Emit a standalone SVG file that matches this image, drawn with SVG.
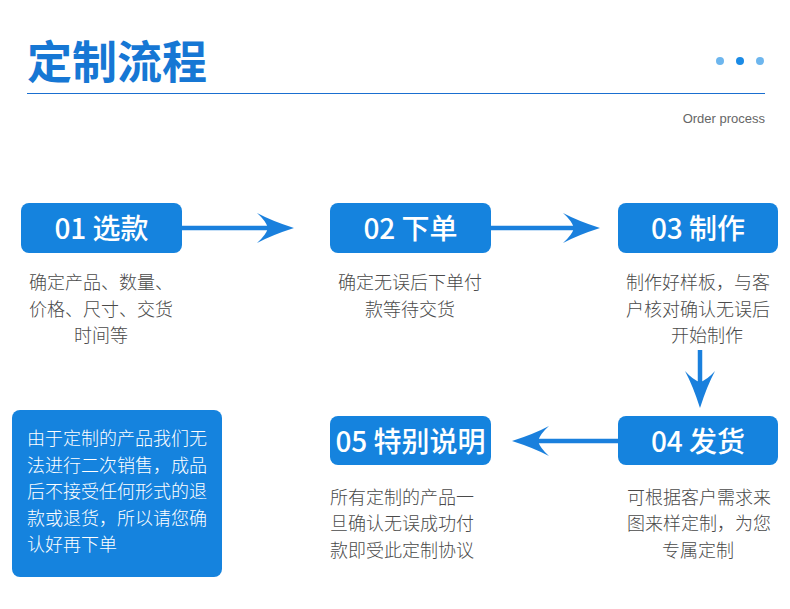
<svg xmlns="http://www.w3.org/2000/svg" width="790" height="609" viewBox="0 0 790 609">
<defs>
<style>
.box{fill:#1583de;}
.lbl{fill:#fff;font-family:"Noto Sans CJK SC","Noto Sans",sans-serif;font-size:28px;font-weight:500;text-anchor:middle;}
.desc{fill:#4a4a4a;font-family:"Noto Sans CJK SC",sans-serif;font-size:18px;font-weight:300;}
.mid{text-anchor:middle;}
.note{fill:#fff;font-family:"Noto Sans CJK SC",sans-serif;font-size:18px;font-weight:300;}
.conn{stroke:#1a80dd;stroke-width:4.5;fill:none;}
</style>
<marker id="ah" markerUnits="userSpaceOnUse" viewBox="-40 -20 44 40" markerWidth="44" markerHeight="40" refX="-26" refY="0" orient="auto">
<path d="M0,0 Q-22,-7 -37,-15 Q-28,-7 -26,0 Q-28,7 -37,15 Q-22,7 0,0 Z" fill="#1a80dd"/>
</marker>
</defs>
<rect width="790" height="609" fill="#fff"/>
<g id="header">
<text x="27" y="79" font-family="'Noto Sans CJK SC',sans-serif" font-size="45" font-weight="bold" fill="#1677d4">定制流程</text>
<line x1="27" y1="93.5" x2="765" y2="93.5" stroke="#1a6fd0" stroke-width="1.2"/>
<circle cx="720" cy="61" r="4" fill="#6db6ee"/>
<circle cx="740" cy="61" r="4" fill="#1a8be6"/>
<circle cx="760" cy="61" r="4" fill="#6db6ee"/>
<text x="765" y="123" text-anchor="end" font-family="'Liberation Sans',Roboto,sans-serif" font-size="13" fill="#666">Order process</text>
</g>
<g id="connectors">
<line class="conn" x1="182" y1="228" x2="268" y2="228" marker-end="url(#ah)"/>
<line class="conn" x1="491" y1="228" x2="574" y2="228" marker-end="url(#ah)"/>
<line class="conn" x1="700" y1="350" x2="700" y2="382" marker-end="url(#ah)"/>
<line class="conn" x1="618" y1="441" x2="538" y2="441" marker-end="url(#ah)"/>
</g>
<g id="n01">
<rect class="box" x="21" y="203" width="161" height="50" rx="8"/>
<text class="lbl" x="101.5" y="238.5">01 选款</text>
<text class="desc mid" x="101" y="289">确定产品、数量、</text>
<text class="desc mid" x="101" y="315.5">价格、尺寸、交货</text>
<text class="desc mid" x="101" y="342">时间等</text>
</g>
<g id="n02">
<rect class="box" x="330" y="203" width="161" height="50" rx="8"/>
<text class="lbl" x="410.5" y="238.5">02 下单</text>
<text class="desc mid" x="410" y="289">确定无误后下单付</text>
<text class="desc mid" x="410" y="315.5">款等待交货</text>
</g>
<g id="n03">
<rect class="box" x="618" y="203" width="160" height="50" rx="8"/>
<text class="lbl" x="698" y="238.5">03 制作</text>
<text class="desc mid" x="698" y="289">制作好样板，与客</text>
<text class="desc mid" x="698" y="315.5">户核对确认无误后</text>
<text class="desc mid" x="707" y="342">开始制作</text>
</g>
<g id="n04">
<rect class="box" x="618" y="416" width="160" height="49" rx="8"/>
<text class="lbl" x="698" y="451.5">04 发货</text>
<text class="desc mid" x="699" y="503.5">可根据客户需求来</text>
<text class="desc mid" x="699" y="530">图来样定制，为您</text>
<text class="desc mid" x="698" y="556.5">专属定制</text>
</g>
<g id="n05">
<rect class="box" x="330" y="416" width="161" height="49" rx="8"/>
<text class="lbl" x="410.5" y="451.5">05 特别说明</text>
<text class="desc" x="330" y="503.5">所有定制的产品一</text>
<text class="desc" x="330" y="530">旦确认无误成功付</text>
<text class="desc" x="330" y="556.5">款即受此定制协议</text>
</g>
<g id="note">
<rect class="box" x="12" y="410" width="210" height="167" rx="8"/>
<text class="note" x="27" y="445">由于定制的产品我们无</text>
<text class="note" x="27" y="471.5">法进行二次销售，成品</text>
<text class="note" x="27" y="498">后不接受任何形式的退</text>
<text class="note" x="27" y="524.5">款或退货，所以请您确</text>
<text class="note" x="27" y="551">认好再下单</text>
</g>
</svg>
